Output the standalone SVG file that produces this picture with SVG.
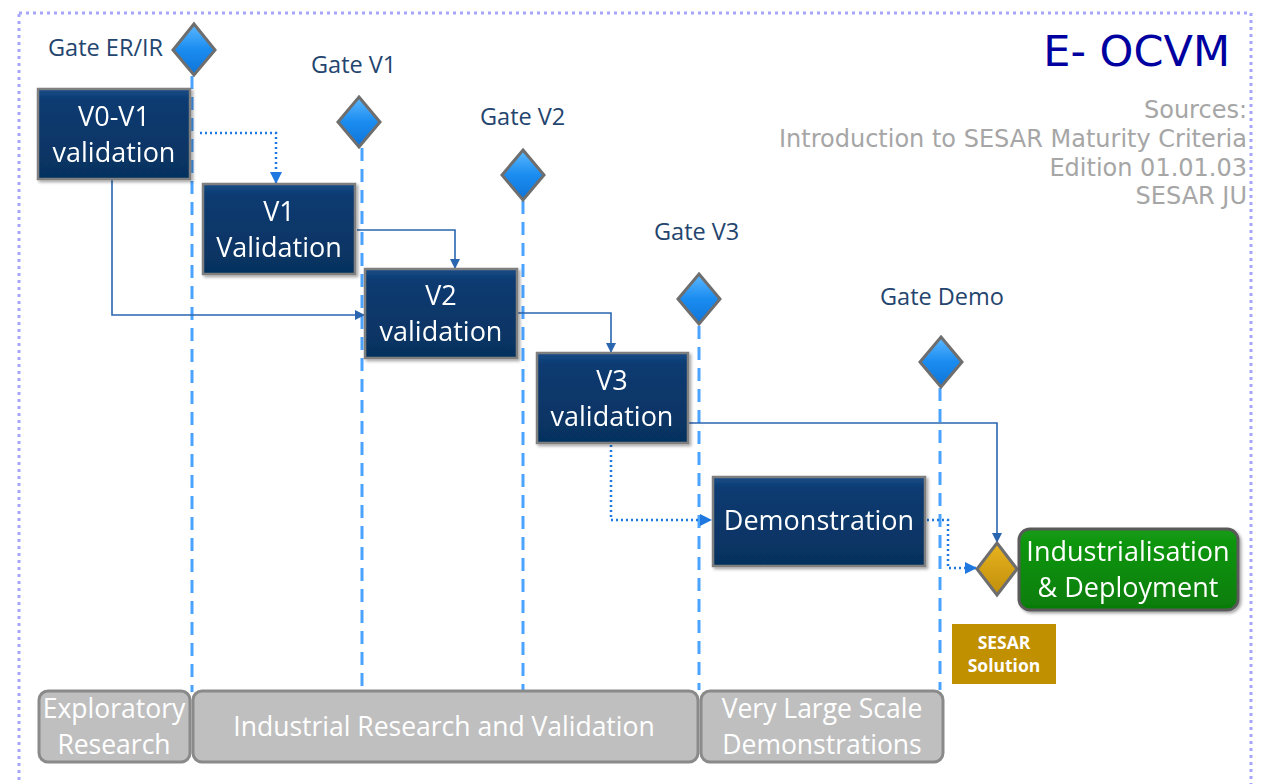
<svg xmlns="http://www.w3.org/2000/svg" width="1261" height="784" viewBox="0 0 1261 784">
<style>
.gate{font-family:"Open Sans","Liberation Sans",sans-serif;font-size:23.5px;fill:#24456e}
.bt{font-family:"Open Sans","Liberation Sans",sans-serif;font-size:27px;fill:#ffffff;text-anchor:middle}
.ph{font-family:"Open Sans","Liberation Sans",sans-serif;font-size:26.5px;fill:#ffffff;text-anchor:middle}
.src{font-family:"DejaVu Sans","Verdana",sans-serif;font-size:24px;fill:#a6a6a6;text-anchor:end}
.box{fill:url(#navy);stroke:#7f7f7f;stroke-width:2.5}
.dia{fill:url(#blue);stroke:#6e6e6e;stroke-width:3}
.vl{stroke:#4aa3ff;stroke-width:3;stroke-dasharray:13,8;fill:none}
.sol{stroke:#2a66b0;stroke-width:1.6;fill:none}
.dot{stroke:#1f78e0;stroke-width:2.5;stroke-dasharray:2,3;fill:none}
.bar{fill:#bfbfbf;stroke:#8a8a8a;stroke-width:3}
</style>
<defs>
<linearGradient id="navy" x1="0" y1="0" x2="0" y2="1"><stop offset="0" stop-color="#1a4d88"/><stop offset="0.12" stop-color="#0a3b72"/><stop offset="1" stop-color="#06325f"/></linearGradient>
<linearGradient id="blue" x1="0" y1="0" x2="0" y2="1"><stop offset="0" stop-color="#5cb8ff"/><stop offset="0.5" stop-color="#1a8cf0"/><stop offset="1" stop-color="#0f74d8"/></linearGradient>
<linearGradient id="gold" x1="0" y1="0" x2="0" y2="1"><stop offset="0" stop-color="#e8b420"/><stop offset="1" stop-color="#c08e0a"/></linearGradient>
<linearGradient id="green" x1="0" y1="0" x2="0" y2="1"><stop offset="0" stop-color="#139b13"/><stop offset="1" stop-color="#067c06"/></linearGradient>
<filter id="sh" x="-10%" y="-10%" width="130%" height="130%"><feDropShadow dx="2" dy="2" stdDeviation="1.5" flood-color="#000" flood-opacity="0.35"/></filter>
<marker id="ah" markerWidth="10" markerHeight="10" refX="9" refY="5" orient="auto" markerUnits="userSpaceOnUse"><path d="M0,0 L10,5 L0,10 z" fill="#2a66b0"/></marker>
<marker id="ad" markerWidth="12" markerHeight="12" refX="11" refY="6" orient="auto" markerUnits="userSpaceOnUse"><path d="M0,0 L12,6 L0,12 z" fill="#1f78e0"/></marker>
</defs>
<rect x="0" y="0" width="1261" height="784" fill="#ffffff"/>
<rect x="19" y="13" width="1232" height="800" fill="none" stroke="#a6a6f6" stroke-width="3" stroke-dasharray="3,4"/>

<g id="title">
<text x="1230" y="66" font-family="DejaVu Sans,Verdana,sans-serif" font-size="43" fill="#0000a0" text-anchor="end">E- OCVM</text>
<text class="src" x="1247" y="118">Sources:</text>
<text class="src" x="1247" y="147">Introduction to SESAR Maturity Criteria</text>
<text class="src" x="1247" y="176">Edition 01.01.03</text>
<text class="src" x="1247" y="204">SESAR JU</text>
</g>

<g id="gatelines">
<line class="vl" x1="192" y1="76" x2="192" y2="692"/>
<line class="vl" x1="362" y1="148" x2="362" y2="690"/>
<line class="vl" x1="523" y1="201" x2="523" y2="690"/>
<line class="vl" x1="699" y1="326" x2="699" y2="690"/>
<line class="vl" x1="940" y1="388" x2="940" y2="690"/>
</g>

<g id="connectors">
<polyline class="dot" points="200,133 276,133 276,183" marker-end="url(#ad)"/>
<polyline class="sol" points="112,179 112,315 364,315" marker-end="url(#ah)"/>
<polyline class="sol" points="357,230 455,230 455,268" marker-end="url(#ah)"/>
<polyline class="sol" points="517,313 611,313 611,352" marker-end="url(#ah)"/>
<polyline class="sol" points="688,423 997,423 997,542" marker-end="url(#ah)"/>
<polyline class="dot" points="611,445 611,520 711,520" marker-end="url(#ad)"/>
<polyline class="dot" points="927,520 948,520 948,568 976,568" marker-end="url(#ad)"/>
</g>

<g id="gate-erir"><path class="dia" d="M194,24 L215,50 L194,75 L173,50 z"/><text class="gate" x="48" y="56">Gate ER/IR</text></g>
<g id="gate-v1"><path class="dia" d="M359,97 L380,122 L359,147 L338,122 z"/><text class="gate" x="311" y="73">Gate V1</text></g>
<g id="gate-v2"><path class="dia" d="M523,150 L544,175 L523,200 L502,175 z"/><text class="gate" x="480" y="125">Gate V2</text></g>
<g id="gate-v3"><path class="dia" d="M699,274 L720,299 L699,324 L678,299 z"/><text class="gate" x="654" y="240">Gate V3</text></g>
<g id="gate-demo"><path class="dia" d="M941,337 L962,362 L941,387 L920,362 z"/><text class="gate" x="880" y="305">Gate Demo</text></g>

<g id="v0v1" filter="url(#sh)"><rect class="box" x="38" y="89" width="152" height="90"/><text class="bt" x="114" y="126">V0-V1</text><text class="bt" x="114" y="162">validation</text></g>
<g id="v1" filter="url(#sh)"><rect class="box" x="203" y="184" width="152" height="90"/><text class="bt" x="279" y="221">V1</text><text class="bt" x="279" y="257">Validation</text></g>
<g id="v2" filter="url(#sh)"><rect class="box" x="365" y="269" width="152" height="89"/><text class="bt" x="441" y="305">V2</text><text class="bt" x="441" y="341">validation</text></g>
<g id="v3" filter="url(#sh)"><rect class="box" x="537" y="353" width="151" height="90"/><text class="bt" x="612" y="390">V3</text><text class="bt" x="612" y="426">validation</text></g>
<g id="demo" filter="url(#sh)"><rect class="box" x="713" y="477" width="212" height="89"/><text class="bt" x="819" y="530" font-size="26.5">Demonstration</text></g>

<g id="sesar-gate"><path d="M997,543 L1017,569 L997,595 L977,569 z" fill="url(#gold)" stroke="#6e6e6e" stroke-width="3"/></g>
<g id="industrialisation" filter="url(#sh)"><rect x="1019" y="529" width="219" height="81" rx="11" fill="url(#green)" stroke="#5a5a5a" stroke-width="3"/><text class="bt" x="1128" y="561">Industrialisation</text><text class="bt" x="1128" y="597">&amp; Deployment</text></g>
<g id="sesar-solution"><rect x="952" y="624" width="104" height="60" fill="#c09000"/><text x="1004" y="649" font-family="Open Sans,Liberation Sans,sans-serif" font-weight="bold" font-size="17.5" fill="#fff" text-anchor="middle">SESAR</text><text x="1004" y="672" font-family="Open Sans,Liberation Sans,sans-serif" font-weight="bold" font-size="17.5" fill="#fff" text-anchor="middle">Solution</text></g>

<g id="phase-er"><rect class="bar" x="39" y="691" width="151" height="71" rx="9"/><text class="ph" x="114" y="718">Exploratory</text><text class="ph" x="114" y="754">Research</text></g>
<g id="phase-ir"><rect class="bar" x="193" y="691" width="505" height="71" rx="9"/><text class="ph" x="444" y="736">Industrial Research and Validation</text></g>
<g id="phase-vls"><rect class="bar" x="701" y="691" width="242" height="71" rx="9"/><text class="ph" x="822" y="718">Very Large Scale</text><text class="ph" x="822" y="754">Demonstrations</text></g>
</svg>
